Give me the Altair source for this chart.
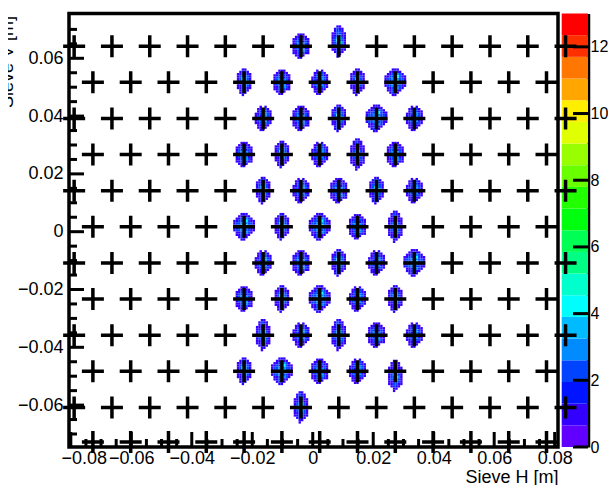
import altair as alt
import pandas as pd

FONT = "Liberation Sans"
W, H = 489, 433.5
X_DOMAIN = [-0.0806, 0.0811]
Y_DOMAIN = [-0.0745, 0.0755]
Z_DOMAIN = [0, 13]
CELL = 0.0008

# sieve hole columns (two staggered patterns) and rows
a_cols = [-0.0789, -0.0664, -0.0539, -0.0414, -0.0289, -0.0164, -0.0039,
          0.0086, 0.0211, 0.0336, 0.0461, 0.0586, 0.0711, 0.0836]
b_cols = [-0.0727, -0.0602, -0.0477, -0.0352, -0.0227, -0.0102, 0.0023,
          0.0148, 0.0273, 0.0398, 0.0523, 0.0648, 0.0773]
row_y = [0.0642, 0.0517, 0.0392, 0.0267, 0.0142, 0.0017,
         -0.0108, -0.0233, -0.0358, -0.0483, -0.0608, -0.0728]
row_pattern = ["A", "B", "A", "B", "A", "B", "A", "B", "A", "B", "A", "B"]

# ROOT "pretty" palette, 20 contour levels
palette = ["#6200ff", "#3300ff", "#0014ff", "#0044ff", "#008bff", "#00bbff",
           "#00fffc", "#00ffcc", "#00ff85", "#00ff55", "#00ff0e", "#22ff00",
           "#69ff00", "#99ff00", "#e0ff00", "#ffee00", "#ffa700", "#ff7700",
           "#ff3000", "#ff0000"]

# blob shapes (counts per bin)
templates = {
    "a": ["..111..",
          ".11211.",
          "1122211",
          "1223121",
          "1234321",
          "1213421",
          "1224311",
          "1122321",
          "1122211",
          ".1121..",
          "..11..."],
    "b": ["..1.1..",
          ".11221.",
          ".122211",
          "1123321",
          "1214321",
          "1123421",
          "1223311",
          "1122221",
          ".11211.",
          ".1111..",
          "..11..."],
    "c": ["..11..",
          ".1221.",
          "112211",
          "122321",
          "124321",
          "123431",
          "122421",
          "112321",
          "112211",
          ".1221.",
          ".121..",
          "..1..."],
    "d": ["...111...",
          "..11211..",
          ".1122321.",
          "112234211",
          "122343221",
          "122364221",
          "112343211",
          "122332211",
          ".1122321.",
          ".112211..",
          "..1211...",
          "...11...."],
    "e": ["..11..",
          ".1211.",
          ".1221.",
          "112211",
          "112311",
          "123421",
          "124321",
          "123431",
          "122321",
          "112221",
          "112211",
          ".1211.",
          "..11..",
          "..1..."],
}

# illuminated holes
hole_x = [-0.0039, 0.0086,
          -0.0227, -0.0102, 0.0023, 0.0148, 0.0273,
          -0.0164, -0.0039, 0.0086, 0.0211, 0.0336,
          -0.0227, -0.0102, 0.0023, 0.0148, 0.0273,
          -0.0164, -0.0039, 0.0086, 0.0211, 0.0336,
          -0.0227, -0.0102, 0.0023, 0.0148, 0.0273,
          -0.0164, -0.0039, 0.0086, 0.0211, 0.0336,
          -0.0227, -0.0102, 0.0023, 0.0148, 0.0273,
          -0.0164, -0.0039, 0.0086, 0.0211, 0.0336,
          -0.0227, -0.0102, 0.0023, 0.0148, 0.0273,
          -0.0039]
hole_y = [0.0642, 0.0642,
          0.0517, 0.0517, 0.0517, 0.0517, 0.0517,
          0.0392, 0.0392, 0.0392, 0.0392, 0.0392,
          0.0267, 0.0267, 0.0267, 0.0267, 0.0267,
          0.0142, 0.0142, 0.0142, 0.0142, 0.0142,
          0.0017, 0.0017, 0.0017, 0.0017, 0.0017,
          -0.0108, -0.0108, -0.0108, -0.0108, -0.0108,
          -0.0233, -0.0233, -0.0233, -0.0233, -0.0233,
          -0.0358, -0.0358, -0.0358, -0.0358, -0.0358,
          -0.0483, -0.0483, -0.0483, -0.0483, -0.0483,
          -0.0608]
hole_tpl = ["a", "e",
            "c", "a", "b", "c", "d",
            "b", "a", "c", "d", "b",
            "a", "c", "b", "e", "a",
            "c", "b", "a", "c", "b",
            "d", "c", "d", "a", "e",
            "b", "a", "c", "b", "d",
            "a", "c", "d", "b", "c",
            "e", "b", "e", "a", "b",
            "c", "d", "a", "b", "e",
            "e"]
hole_dy = [0, 2,
           0, 0, 0, 0, 0,
           0, 0, 0, 0, 0,
           0, 0, 0, 0, 0,
           0, 0, 0, 0, 0,
           0, 0, 0, 0, 0,
           0, 0, 0, 0, 0,
           0, 0, 0, 0, 0,
           0, 0, 0, 0, 0,
           0, 0, 0, 0, -2,
           0]

x_labels_inner = [-0.06, -0.04, -0.02, 0, 0.02, 0.04, 0.06, 0.08]
x_label_first = [-0.08]
x_major = [-0.08, -0.06, -0.04, -0.02, 0, 0.02, 0.04, 0.06, 0.08]
x_minor = [-0.075, -0.07, -0.065, -0.055, -0.05, -0.045, -0.035, -0.03, -0.025,
           -0.015, -0.01, -0.005, 0.005, 0.01, 0.015, 0.025, 0.03, 0.035,
           0.045, 0.05, 0.055, 0.065, 0.07, 0.075]
y_major = [-0.06, -0.04, -0.02, 0, 0.02, 0.04, 0.06]
y_minor = [-0.07, -0.065, -0.055, -0.05, -0.045, -0.035, -0.03, -0.025,
           -0.015, -0.01, -0.005, 0.005, 0.01, 0.015, 0.025, 0.03, 0.035,
           0.045, 0.05, 0.055, 0.065, 0.07]
z_ticks = [0, 2, 4, 6, 8, 10, 12]

# ---------- tables ----------
cells = []
for hx, hy, t, dy in zip(hole_x, hole_y, hole_tpl, hole_dy):
    tpl = templates[t]
    nh = len(tpl)
    nw = max(len(s) for s in tpl)
    for r, line in enumerate(tpl):
        for c, ch in enumerate(line):
            if ch == ".":
                continue
            cx = hx + (c - (nw - 1) / 2) * CELL
            cy = hy + ((nh - 1) / 2 - r + dy) * CELL
            cells.append({"x": cx - CELL / 2, "x2": cx + CELL / 2,
                          "y": cy - CELL / 2, "y2": cy + CELL / 2, "z": int(ch)})
cells_df = pd.DataFrame(cells)

crosses = []
for yv, pat in zip(row_y, row_pattern):
    for xv in (a_cols if pat == "A" else b_cols):
        crosses.append({"x": xv, "y": yv})
cross_df = pd.DataFrame(crosses)

nlev = len(palette)
bands_df = pd.DataFrame({
    "lo": [Z_DOMAIN[1] * i / nlev for i in range(nlev)],
    "hi": [Z_DOMAIN[1] * (i + 1) / nlev for i in range(nlev)],
    "mid": [Z_DOMAIN[1] * (i + 0.5) / nlev for i in range(nlev)],
})

# ---------- scales ----------
def xs():
    return alt.Scale(domain=X_DOMAIN, nice=False, zero=False)

def ys():
    return alt.Scale(domain=Y_DOMAIN, nice=False, zero=False)

def zs():
    return alt.Scale(domain=Z_DOMAIN, nice=False, zero=False)

cs = alt.Scale(type="quantize", domain=Z_DOMAIN, range=palette, nice=False, zero=False)

label_style = dict(labelFont=FONT, labelFontSize=18, labelColor="black",
                   labelFlush=False, labelOverlap=False, ticks=False,
                   domain=False, grid=False)

x_axis = alt.Axis(orient="bottom", values=x_labels_inner, format="~g", labelPadding=2,
                  title="Sieve H [m]", titleFont=FONT, titleFontSize=18,
                  titleFontWeight="normal", titleColor="black", titleAnchor="end",
                  titleAlign="right", titleBaseline="alphabetic", titleX=W, titleY=35,
                  **label_style)
x_axis_first = alt.Axis(orient="bottom", values=x_label_first, format="~g",
                        labelPadding=2, labelOffset=13, title=None, **label_style)
y_axis = alt.Axis(values=y_major, format="~g", labelPadding=6,
                  title="Sieve V [m]", titleFont=FONT, titleFontSize=18,
                  titleFontWeight="normal", titleColor="black", titleAngle=270,
                  titleAnchor="end", titleAlign="right", titleBaseline="alphabetic",
                  titleX=-57, titleY=2, **label_style)
z_axis = alt.Axis(orient="right", offset=30, values=z_ticks, format="d", ticks=False,
                  domain=True, domainColor="black", domainWidth=3.5, grid=False,
                  labelFont=FONT, labelFontSize=16, labelColor="black", labelPadding=2,
                  labelFlush=False, labelOverlap=False, title=None)

heat = alt.Chart(cells_df).mark_rect(strokeWidth=0).encode(
    x=alt.X("x:Q", scale=xs(), axis=x_axis),
    x2="x2:Q",
    y=alt.Y("y:Q", scale=ys(), axis=y_axis),
    y2="y2:Q",
    color=alt.Color("z:Q", scale=cs, legend=None),
)

cross = alt.Chart(cross_df).mark_point(
    shape="M-1,0L1,0M0,-1L0,1", size=484, filled=False, stroke="black",
    strokeWidth=3.5, opacity=1, clip=False,
).encode(
    x=alt.X("x:Q", scale=xs(), axis=None),
    y=alt.Y("y:Q", scale=ys(), axis=None),
)

ymaj = alt.Chart(pd.DataFrame({"v": y_major})).mark_rule(color="black", strokeWidth=3).encode(
    y=alt.Y("v:Q", scale=ys(), axis=None), x=alt.value(0), x2=alt.value(15))
ymin = alt.Chart(pd.DataFrame({"v": y_minor})).mark_rule(color="black", strokeWidth=3).encode(
    y=alt.Y("v:Q", scale=ys(), axis=None), x=alt.value(0), x2=alt.value(8))
xmaj = alt.Chart(pd.DataFrame({"v": x_major})).mark_rule(color="black", strokeWidth=3).encode(
    x=alt.X("v:Q", scale=xs(), axis=x_axis_first), y=alt.value(H), y2=alt.value(H - 15))
xmin = alt.Chart(pd.DataFrame({"v": x_minor})).mark_rule(color="black", strokeWidth=3).encode(
    x=alt.X("v:Q", scale=xs(), axis=None), y=alt.value(H), y2=alt.value(H - 8))

cbar = alt.Chart(bands_df).mark_rect(strokeWidth=0).encode(
    y=alt.Y("lo:Q", scale=zs(), axis=z_axis),
    y2="hi:Q",
    x=alt.value(492.7),
    x2=alt.value(519),
    color=alt.Color("mid:Q", scale=cs, legend=None),
)
cticks = alt.Chart(pd.DataFrame({"v": z_ticks})).mark_rule(color="black", strokeWidth=3).encode(
    y=alt.Y("v:Q", scale=zs(), axis=None), x=alt.value(504), x2=alt.value(519))

chart = alt.layer(heat, ymaj, ymin, xmaj, xmin, cbar, cticks, cross).resolve_scale(
    y="independent"
).resolve_axis(x="independent").properties(
    width=W, height=H,
    padding={"left": 61, "top": 5.5, "right": 50, "bottom": 38},
    autosize=alt.AutoSizeParams(type="none"),
).configure(background="white", font=FONT).configure_view(
    stroke="black", strokeWidth=3.5)

chart.save("out.html", embed_options={"renderer": "svg", "actions": False})
